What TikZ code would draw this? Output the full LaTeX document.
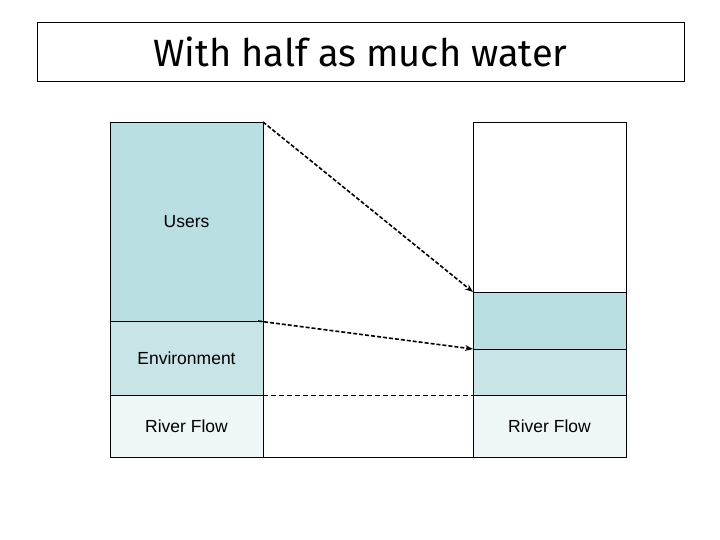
\documentclass[tikz,border=0pt]{standalone}
\usepackage{fontspec}
\setmainfont{Liberation Sans}
\newfontfamily\titlefont{Fira Sans}
\usetikzlibrary{arrows.meta,patterns}
\definecolor{usersblue}{HTML}{B9DFE3}
\definecolor{envblue}{HTML}{C9E4E7}
\definecolor{riverblue}{HTML}{EEF6F7}
\tikzset{
  col/.style={draw=black, line width=0.75pt, minimum width=153pt, inner sep=0pt, outer sep=0pt, font=\fontsize{17.5}{20}\selectfont},
  users/.style={col, fill=usersblue},
  env/.style={col, fill=envblue},
  river/.style={col, fill=riverblue},
  flowarrow/.style={line width=1.6pt, dash pattern=on 4pt off 2pt, -{Stealth[length=8pt,width=6pt]}},
  guide/.style={line width=0.6pt, dash pattern=on 5pt off 3pt},
}
\begin{document}
\begin{tikzpicture}[x=1pt,y=-1pt]
\useasboundingbox (0,0) rectangle (720,540);
\node[draw=black, line width=0.75pt, minimum width=647pt, minimum height=59pt, inner sep=0pt, font=\titlefont\fontsize{38}{42}\selectfont] (title) at (360.5,51.5) {With half as much water};
% left column
\node[users, minimum height=199pt] (uL) at (186.5,221.5) {Users};
\node[env, minimum height=74pt] (eL) at (186.5,358) {Environment};
\node[river, minimum height=62pt] (rL) at (186.5,426) {River Flow};
% right column
\node[col, fill=white, minimum height=170pt] (tR) at (549.5,207) {};
\node[users, minimum height=57pt] (uR) at (549.5,320.5) {};
\node[env, minimum height=46pt] (eR) at (549.5,372) {};
\node[river, minimum height=62pt] (rR) at (549.5,426) {River Flow};
% connectors
\draw[flowarrow] (uL.north east) -- (uR.north west);
\draw[flowarrow] ([xshift=-5pt]eL.north east) -- (eR.north west);
\draw[guide] (rL.north east) -- (rR.north west);
\draw[line width=0.75pt] (rL.south east) -- (rR.south west);
\end{tikzpicture}
\end{document}
